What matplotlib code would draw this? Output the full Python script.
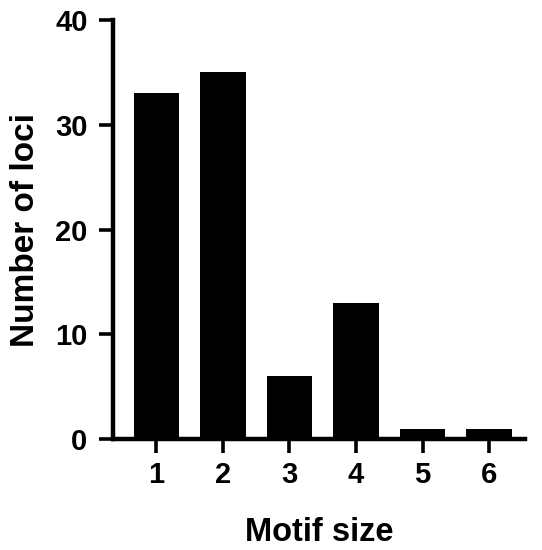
import matplotlib
matplotlib.use("Agg")
import matplotlib.pyplot as plt

categories = [1, 2, 3, 4, 5, 6]
values = [33, 35, 6, 13, 1, 1]
yticks = [0, 10, 20, 30, 40]

plt.rcParams['font.family'] = ['Liberation Sans', 'DejaVu Sans']
plt.rcParams['font.weight'] = 'bold'

fig = plt.figure(figsize=(5.42, 5.5), dpi=100)
ax = fig.add_axes([0.2076, 0.2018, 0.7610, 0.7618])
ax.bar(categories, values, width=0.68, color='black')
ax.set_xlim(0.34, 6.54)
ax.set_ylim(0, 40)
ax.set_yticks(yticks)
ax.set_xticks(categories)
for s in ['top', 'right']:
    ax.spines[s].set_visible(False)
for s in ['left', 'bottom']:
    ax.spines[s].set_linewidth(3.2)
ax.tick_params(width=2.6, length=10, labelsize=21, pad=6)
ax.tick_params(axis='y', pad=8)
for lbl in ax.get_xticklabels() + ax.get_yticklabels():
    lbl.set_fontweight('bold')
ax.set_xlabel('Motif size', fontsize=23.5, fontweight='bold', labelpad=20)
ax.set_ylabel('Number of loci', fontsize=24, fontweight='bold', labelpad=10)
fig.savefig('out.png', dpi=100)
